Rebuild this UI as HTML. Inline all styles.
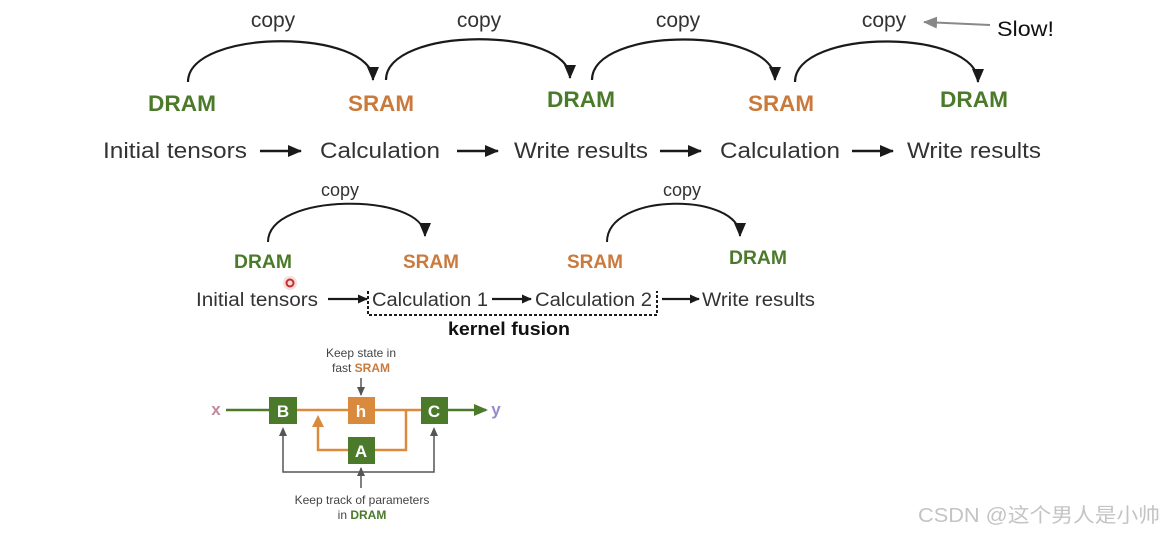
<!DOCTYPE html>
<html><head><meta charset="utf-8"><style>
html,body{margin:0;padding:0;background:#fff;}
svg{display:block;font-family:"Liberation Sans","Noto Sans CJK SC",sans-serif;}
</style></head><body>
<svg width="1166" height="534" viewBox="0 0 1166 534" xmlns="http://www.w3.org/2000/svg">
<defs>
<marker id="ab" markerWidth="10" markerHeight="9" refX="9" refY="4.5" orient="auto" markerUnits="userSpaceOnUse"><path d="M0,0 L10,4.5 L0,9 z" fill="#1a1a1a"/></marker>
<marker id="ab2" markerWidth="14" markerHeight="12" refX="13" refY="6" orient="auto" markerUnits="userSpaceOnUse"><path d="M0,0 L14,6 L0,12 z" fill="#1a1a1a"/></marker>
<marker id="ag" markerWidth="14" markerHeight="12" refX="13" refY="6" orient="auto" markerUnits="userSpaceOnUse"><path d="M0,0 L14,6 L0,12 z" fill="#888"/></marker>
<marker id="ag2" markerWidth="9" markerHeight="8" refX="8" refY="4" orient="auto" markerUnits="userSpaceOnUse"><path d="M0,0 L9,4 L0,8 z" fill="#555"/></marker>
</defs>
<g fill="#333" font-size="21" text-anchor="middle">
<text x="273" y="27">copy</text><text x="479" y="27">copy</text><text x="678" y="27">copy</text><text x="884" y="27">copy</text>
</g>
<g fill="none" stroke="#1a1a1a" stroke-width="2.2">
<path d="M188,82 C188,28 373,28 373,80" marker-end="url(#ab2)"/>
<path d="M386,80 C386,26 570,26 570,78" marker-end="url(#ab2)"/>
<path d="M592,80 C592,26 775,26 775,80" marker-end="url(#ab2)"/>
<path d="M795,82 C795,28 978,28 978,82" marker-end="url(#ab2)"/>
</g>
<line x1="990" y1="25" x2="924" y2="22" stroke="#888" stroke-width="2" marker-end="url(#ag)"/>
<text x="997" y="36" font-size="21" fill="#111" textLength="57" lengthAdjust="spacingAndGlyphs">Slow!</text>
<g font-size="22" font-weight="bold" text-anchor="middle">
<text x="182" y="111" fill="#4a7a2a" textLength="68" lengthAdjust="spacingAndGlyphs">DRAM</text>
<text x="381" y="111" fill="#c97a3c" textLength="66" lengthAdjust="spacingAndGlyphs">SRAM</text>
<text x="581" y="107" fill="#4a7a2a" textLength="68" lengthAdjust="spacingAndGlyphs">DRAM</text>
<text x="781" y="111" fill="#c97a3c" textLength="66" lengthAdjust="spacingAndGlyphs">SRAM</text>
<text x="974" y="107" fill="#4a7a2a" textLength="68" lengthAdjust="spacingAndGlyphs">DRAM</text>
</g>
<g font-size="22" fill="#333">
<text x="103" y="158" textLength="144" lengthAdjust="spacingAndGlyphs">Initial tensors</text>
<text x="320" y="158" textLength="120" lengthAdjust="spacingAndGlyphs">Calculation</text>
<text x="514" y="158" textLength="134" lengthAdjust="spacingAndGlyphs">Write results</text>
<text x="720" y="158" textLength="120" lengthAdjust="spacingAndGlyphs">Calculation</text>
<text x="907" y="158" textLength="134" lengthAdjust="spacingAndGlyphs">Write results</text>
</g>
<g stroke="#1a1a1a" stroke-width="2.5">
<line x1="260" y1="151" x2="301" y2="151" marker-end="url(#ab2)"/>
<line x1="457" y1="151" x2="498" y2="151" marker-end="url(#ab2)"/>
<line x1="660" y1="151" x2="701" y2="151" marker-end="url(#ab2)"/>
<line x1="852" y1="151" x2="893" y2="151" marker-end="url(#ab2)"/>
</g>
<!-- second -->
<g fill="#333" font-size="18" text-anchor="middle"><text x="340" y="196">copy</text><text x="682" y="196">copy</text></g>
<g fill="none" stroke="#1a1a1a" stroke-width="2">
<path d="M268,242 C268,192 425,192 425,236" marker-end="url(#ab2)"/>
<path d="M607,242 C607,192 740,192 740,236" marker-end="url(#ab2)"/>
</g>
<g font-size="19" font-weight="bold" text-anchor="middle">
<text x="263" y="268" fill="#4a7a2a" textLength="58" lengthAdjust="spacingAndGlyphs">DRAM</text>
<text x="431" y="268" fill="#c97a3c" textLength="56" lengthAdjust="spacingAndGlyphs">SRAM</text>
<text x="595" y="268" fill="#c97a3c" textLength="56" lengthAdjust="spacingAndGlyphs">SRAM</text>
<text x="758" y="264" fill="#4a7a2a" textLength="58" lengthAdjust="spacingAndGlyphs">DRAM</text>
</g>
<circle cx="290" cy="283" r="7" fill="#e05050" opacity="0.2"/>
<circle cx="290" cy="283" r="3.5" fill="none" stroke="#c03030" stroke-width="2"/>
<g font-size="19" fill="#333">
<text x="196" y="306" textLength="122" lengthAdjust="spacingAndGlyphs">Initial tensors</text>
<text x="372" y="306" textLength="116" lengthAdjust="spacingAndGlyphs">Calculation 1</text>
<text x="535" y="306" textLength="117" lengthAdjust="spacingAndGlyphs">Calculation 2</text>
<text x="702" y="306" textLength="113" lengthAdjust="spacingAndGlyphs">Write results</text>
</g>
<g stroke="#1a1a1a" stroke-width="2.2">
<line x1="328" y1="299" x2="367" y2="299" marker-end="url(#ab)"/>
<line x1="492" y1="299" x2="531" y2="299" marker-end="url(#ab)"/>
<line x1="662" y1="299" x2="699" y2="299" marker-end="url(#ab)"/>
</g>
<path d="M368,291 V315 H657 V291" fill="none" stroke="#1a1a1a" stroke-width="2" stroke-dasharray="3,2"/>
<text x="509" y="335" font-size="18" font-weight="bold" fill="#111" text-anchor="middle" textLength="122" lengthAdjust="spacingAndGlyphs">kernel fusion</text>
<!-- block -->
<text x="361" y="357" font-size="12" fill="#444" text-anchor="middle">Keep state in</text>
<text x="361" y="372" font-size="12" fill="#444" text-anchor="middle">fast <tspan font-weight="bold" fill="#c97a3c">SRAM</tspan></text>
<line x1="361" y1="378" x2="361" y2="395" stroke="#555" stroke-width="1.5" marker-end="url(#ag2)"/>
<text x="216" y="415" font-size="17" font-weight="bold" fill="#c08a9a" text-anchor="middle">x</text>
<text x="496" y="415" font-size="17" font-weight="bold" fill="#9a8acb" text-anchor="middle">y</text>
<line x1="226" y1="410" x2="269" y2="410" stroke="#4a7a2a" stroke-width="2.5"/>
<line x1="448" y1="410" x2="486" y2="410" stroke="#4a7a2a" stroke-width="2.5"/>
<path d="M474,404 L488,410 L474,416 z" fill="#4a7a2a"/>
<g stroke="#d98a3c" stroke-width="2.5" fill="none">
<line x1="297" y1="410" x2="421" y2="410"/>
<path d="M406,410 V450 H375"/>
<path d="M348,450 H318 V425"/>
</g>
<path d="M312,427 L318,415 L324,427 z" fill="#d98a3c"/>
<rect x="269" y="397" width="28" height="27" fill="#4a7a2a"/>
<rect x="348" y="397" width="27" height="27" fill="#d98a3c"/>
<rect x="421" y="397" width="27" height="27" fill="#4a7a2a"/>
<rect x="348" y="437" width="27" height="27" fill="#4a7a2a"/>
<g font-size="17" font-weight="bold" fill="#fff" text-anchor="middle">
<text x="283" y="417">B</text><text x="361" y="417">h</text><text x="434" y="417">C</text><text x="361" y="457">A</text>
</g>
<path d="M283,430 V472 H434 V430" fill="none" stroke="#555" stroke-width="1.5"/>
<path d="M279,436 L283,427 L287,436 z M430,436 L434,427 L438,436 z" fill="#555"/>
<line x1="361" y1="488" x2="361" y2="468" stroke="#555" stroke-width="1.5" marker-end="url(#ag2)"/>
<text x="362" y="504" font-size="12" fill="#444" text-anchor="middle">Keep track of parameters</text>
<text x="362" y="519" font-size="12" fill="#444" text-anchor="middle">in <tspan font-weight="bold" fill="#4a7a2a">DRAM</tspan></text>
<text x="918" y="522" font-size="20" fill="#c4c4c4" textLength="242" lengthAdjust="spacingAndGlyphs">CSDN @这个男人是小帅</text>
</svg>
</body></html>
